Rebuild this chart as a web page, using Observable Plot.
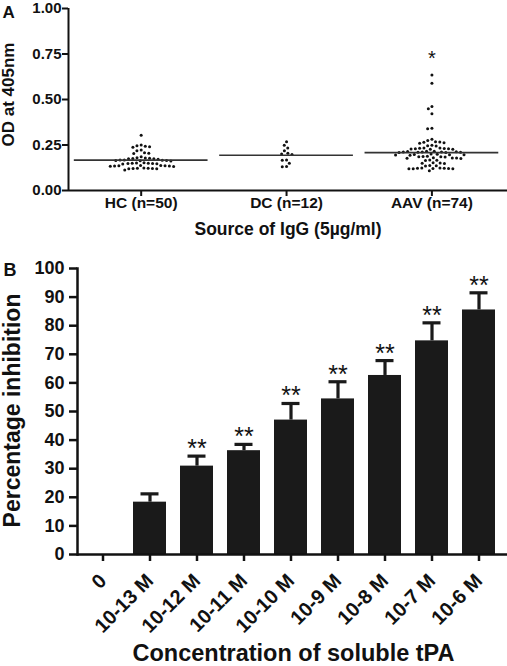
<!DOCTYPE html>
<html>
<head>
<meta charset="utf-8">
<script src="https://cdn.jsdelivr.net/npm/d3@7"></script>
<script src="https://cdn.jsdelivr.net/npm/@observablehq/plot@0.6"></script>
<style>
  html, body { margin: 0; padding: 0; background: #fff; overflow: hidden; }
  #chart { width: 507px; height: 666px; }
  #chart svg { display: block; }
</style>
</head>
<body>
<div id="chart"></div>
<script>
// ---------- Panel A data ----------
const groups = ["HC (n=50)", "DC (n=12)", "AAV (n=74)"];
const hcValues = [
  0.304, 0.250, 0.246, 0.243, 0.241, 0.238, 0.222, 0.219, 0.207, 0.205, 0.203, 0.186,
  0.180, 0.179, 0.177, 0.176, 0.175, 0.174, 0.172,
  0.168, 0.167, 0.166, 0.165, 0.165, 0.163, 0.162,
  0.152, 0.151, 0.150, 0.150, 0.149, 0.148, 0.147, 0.146,
  0.138, 0.137, 0.136, 0.136, 0.135, 0.134, 0.133, 0.132,
  0.123, 0.122, 0.122, 0.121, 0.121, 0.120, 0.119,
  0.112
];
const dcValues = [0.268, 0.248, 0.234, 0.219, 0.205, 0.201, 0.198, 0.168, 0.166, 0.150, 0.132, 0.131];
const aavValues = [
  0.634, 0.589, 0.462, 0.449, 0.422, 0.342, 0.339,
  0.281, 0.275,
  0.268, 0.266, 0.265, 0.262, 0.260,
  0.248, 0.246, 0.244,
  0.234, 0.233, 0.232, 0.231, 0.230, 0.229, 0.228, 0.227, 0.226,
  0.216, 0.215, 0.214, 0.213, 0.212, 0.212, 0.211, 0.210, 0.210, 0.209, 0.209,
  0.200, 0.199, 0.198, 0.197, 0.196, 0.195, 0.194,
  0.188, 0.187, 0.186, 0.185, 0.184,
  0.180, 0.179, 0.178, 0.177, 0.176,
  0.167, 0.166, 0.165,
  0.152, 0.151, 0.150, 0.149,
  0.137, 0.136, 0.135,
  0.124, 0.123, 0.122, 0.122, 0.121, 0.121, 0.120, 0.120, 0.119,
  0.108
];
const medians = [0.167, 0.194, 0.208];
const yTicksA = [0, 0.25, 0.50, 0.75, 1.00];
const starGroupA = 2;
const starLevelA = 0.75;
const starLabelA = "*";

// ---------- Panel B data ----------
const concentrations = ["0", "10-13 M", "10-12 M", "10-11 M", "10-10 M", "10-9 M", "10-8 M", "10-7 M", "10-6 M"];
const inhibition = [0, 18.3, 30.9, 36.3, 47.0, 54.4, 62.6, 74.7, 85.5];
const sem = [0, 2.9, 3.5, 2.2, 5.8, 6.0, 5.2, 6.3, 6.0];
const significance = ["", "", "**", "**", "**", "**", "**", "**", "**"];
const yTicksB = [0, 10, 20, 30, 40, 50, 60, 70, 80, 90, 100];

const FONT = '"Liberation Sans", Arial, Helvetica, sans-serif';
const INK = "#111";

// ---------- Panel A ----------
const WA = 507, HA = 240;
const mA = {top: 8, right: 0, bottom: 50, left: 68};
const xDomainA = [-0.5, 2.52];
const pxPerX = (WA - mA.left - mA.right) / (xDomainA[1] - xDomainA[0]);
const pxPerY = HA - mA.top - mA.bottom;

// simple beeswarm layout (pixel space), result expressed in x data units
function swarm(values, gi, r, pad) {
  const d = 2 * r + pad;
  const idx = values.map((_, i) => i).sort((a, b) => values[b] - values[a]);
  const placed = [];
  const out = [];
  for (const i of idx) {
    const y = values[i] * pxPerY;
    const near = placed.filter(p => Math.abs(p.y - y) < d);
    const cands = [0];
    for (const p of near) {
      const dx = Math.sqrt(d * d - (p.y - y) ** 2);
      cands.push(p.x - dx, p.x + dx);
    }
    cands.sort((a, b) => Math.abs(a) - Math.abs(b) || a - b);
    const x = cands.find(c => near.every(p => (p.x - c) ** 2 + (p.y - y) ** 2 >= d * d - 1e-6));
    placed.push({x, y});
    out.push({group: groups[gi], value: values[i], x: gi + x / pxPerX});
  }
  return out;
}

const R = 1.5, PAD = 1.3;
const dotsA = [
  ...swarm(hcValues, 0, R, PAD),
  ...swarm(dcValues, 1, R, PAD),
  ...swarm(aavValues, 2, R, PAD)
];
const medianData = medians.map((m, i) => ({i, value: m}));

const plotA = Plot.plot({
  width: WA, height: HA,
  marginTop: mA.top, marginRight: mA.right, marginBottom: mA.bottom, marginLeft: mA.left,
  style: {fontFamily: FONT, color: INK, background: "#fff"},
  x: {domain: xDomainA, axis: null},
  y: {domain: [0, 1], axis: null},
  marks: [
    Plot.dot(dotsA, {x: "x", y: "value", r: R, fill: INK, stroke: "none"}),
    Plot.ruleY(medianData, {y: "value", x1: d => d.i - 0.46, x2: d => d.i + 0.46, stroke: "#333", strokeWidth: 1.6}),
    Plot.text([starLabelA], {x: () => starGroupA, y: () => starLevelA, text: d => d, fontSize: 20, dy: 5, fill: INK}),
    Plot.ruleY([0], {stroke: INK, strokeWidth: 2}),
    Plot.ruleX([xDomainA[0]], {y1: 0, y2: 1, stroke: INK, strokeWidth: 2}),
    Plot.axisY({ticks: yTicksA, tickFormat: d3.format(".2f"), tickSize: 6, tickPadding: 1,
      fontSize: 15, fontWeight: "bold", strokeWidth: 2, label: null}),
    Plot.axisX({ticks: [0, 1, 2], tickFormat: i => groups[i], tickSize: 6, tickPadding: 0,
      fontSize: 15.5, fontWeight: "bold", strokeWidth: 2, label: null}),
    Plot.text(["OD at 405nm"], {text: d => d, frameAnchor: "left", rotate: -90, dx: -67, dy: -5,
      textAnchor: "middle", lineAnchor: "top", fontSize: 17, fontWeight: "bold", fill: INK}),
    Plot.text(["Source of IgG (5µg/ml)"], {text: d => d, frameAnchor: "bottom", dy: 39,
      textAnchor: "middle", lineAnchor: "middle", fontSize: 17.5, fontWeight: "bold", fill: INK}),
    Plot.text(["A"], {text: d => d, frameAnchor: "top-left", dx: -66, dy: -3, textAnchor: "start",
      lineAnchor: "top", fontSize: 17, fontWeight: "bold", fill: INK})
  ]
});

// ---------- Panel B ----------
const WB = 507, HB = 426;
const mB = {top: 28, right: 0, bottom: 112, left: 77};
const barData = concentrations.map((c, i) => ({c, v: inhibition[i], e: sem[i], s: significance[i]}));
const errData = barData.filter(d => d.e > 0);
const sigData = barData.filter(d => d.s);
const BAR = "#1a1a1a";

const plotB = Plot.plot({
  width: WB, height: HB,
  marginTop: mB.top, marginRight: mB.right, marginBottom: mB.bottom, marginLeft: mB.left,
  style: {fontFamily: FONT, color: INK, background: "#fff"},
  x: {domain: concentrations, range: [83, 499], paddingInner: 0.29, paddingOuter: 0, axis: null},
  y: {domain: [0, 100], axis: null},
  marks: [
    Plot.barY(barData, {x: "c", y: "v", fill: BAR}),
    Plot.ruleX(errData, {x: "c", y1: "v", y2: d => d.v + d.e, stroke: BAR, strokeWidth: 3.2}),
    Plot.tickY(errData, {x: "c", y: d => d.v + d.e, stroke: BAR, strokeWidth: 3.2, insetLeft: 7.5, insetRight: 7.5}),
    Plot.text(sigData, {x: "c", y: d => d.v + d.e, text: "s", fontSize: 25, dy: -7, fill: INK}),
    Plot.ruleY([0], {stroke: INK, strokeWidth: 2.5}),
    Plot.frame({anchor: "left", stroke: INK, strokeWidth: 2.5}),
    Plot.axisY({ticks: yTicksB, tickSize: 8, tickPadding: 5, fontSize: 18, fontWeight: "bold",
      strokeWidth: 2.5, label: null}),
    Plot.axisX({tickRotate: -45, tickSize: 7, tickPadding: 16, fontSize: 20, fontWeight: "bold",
      strokeWidth: 2.5, label: null}),
    Plot.text(["Percentage inhibition"], {text: d => d, frameAnchor: "left", rotate: -90, dx: -74, dy: -1,
      textAnchor: "middle", lineAnchor: "top", fontSize: 23, fontWeight: "bold", fill: INK}),
    Plot.text(["Concentration of soluble tPA"], {text: d => d, frameAnchor: "bottom", dx: 1, dy: 99,
      textAnchor: "middle", lineAnchor: "middle", fontSize: 23.5, fontWeight: "bold", fill: INK}),
    Plot.text(["B"], {text: d => d, frameAnchor: "top-left", dx: -74, dy: -5, textAnchor: "start",
      lineAnchor: "top", fontSize: 18, fontWeight: "bold", fill: INK})
  ]
});

const chart = document.getElementById("chart");
chart.appendChild(plotA);
chart.appendChild(plotB);
</script>
</body>
</html>
